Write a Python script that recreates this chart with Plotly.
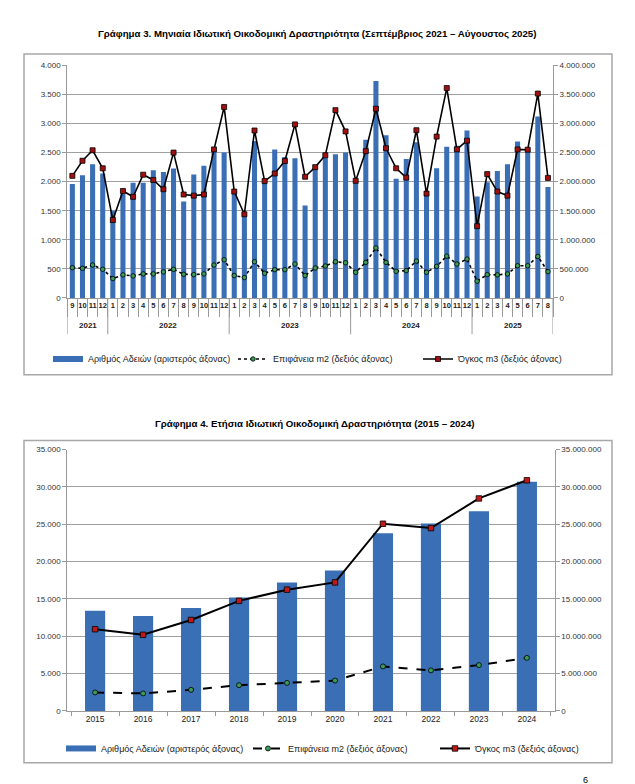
import plotly.graph_objects as go

# ---------------- DATA ----------------
# Chart 3 (monthly, Sep 2021 - Aug 2025)
year_groups = ["2021", "2022", "2023", "2024", "2025"]
months_per_group = [
    ["9", "10", "11", "12"],
    ["1", "2", "3", "4", "5", "6", "7", "8", "9", "10", "11", "12"],
    ["1", "2", "3", "4", "5", "6", "7", "8", "9", "10", "11", "12"],
    ["1", "2", "3", "4", "5", "6", "7", "8", "9", "10", "11", "12"],
    ["1", "2", "3", "4", "5", "6", "7", "8"],
]
permits_monthly = [1960, 2110, 2300, 2140,
                   1500, 1790, 1980, 1980, 2195, 2165, 2225, 1660, 2125, 2275, 2520, 2500,
                   1840, 1450, 2700, 2000, 2555, 2425, 2405, 1590, 2215, 2415, 2470, 2500,
                   2010, 2720, 3730, 2800, 2050, 2390, 2680, 1790, 2230, 2600, 2620, 2880,
                   1745, 1990, 2185, 2300, 2690, 2560, 3120, 1910]
surface_monthly = [521000, 510000, 567000, 493000,
                   334000, 397000, 380000, 414000, 414000, 448000, 493000, 408000, 402000, 414000, 567000, 657000,
                   385000, 351000, 623000, 425000, 487000, 487000, 584000, 385000, 516000, 550000, 623000, 606000,
                   442000, 612000, 861000, 612000, 459000, 470000, 635000, 442000, 544000, 720000, 584000, 669000,
                   289000, 402000, 397000, 414000, 555000, 555000, 714000, 453000]
volume_monthly = [2100000, 2360000, 2540000, 2230000,
                  1340000, 1840000, 1740000, 2120000, 2030000, 1870000, 2500000, 1780000, 1760000, 1780000, 2555000, 3285000,
                  1830000, 1440000, 2880000, 2010000, 2140000, 2355000, 2985000, 2085000, 2250000, 2455000, 3230000, 2865000,
                  2015000, 2525000, 3255000, 2575000, 2230000, 2070000, 2885000, 1795000, 2775000, 3610000, 2555000, 2705000,
                  1235000, 2130000, 1830000, 1760000, 2555000, 2550000, 3515000, 2065000]

# Chart 4 (annual 2015 - 2024)
years_annual = ["2015", "2016", "2017", "2018", "2019", "2020", "2021", "2022", "2023", "2024"]
permits_annual = [13400, 12700, 13770, 15200, 17200, 18800, 23800, 25100, 26750, 30700]
surface_annual = [2470000, 2340000, 2820000, 3440000, 3750000, 4060000, 5960000, 5430000, 6130000, 7100000]
volume_annual = [10940000, 10190000, 12180000, 14740000, 16240000, 17210000, 25070000, 24490000, 28460000, 30890000]

names = ["Αριθμός Αδειών (αριστερός άξονας)", "Επιφάνεια m2 (δεξιός άξονας)", "Όγκος m3 (δεξιός άξονας)"]
title3 = "Γράφημα 3. Μηνιαία Ιδιωτική Οικοδομική Δραστηριότητα (Σεπτέμβριος 2021 – Αύγουστος 2025)"
title4 = "Γράφημα 4. Ετήσια Ιδιωτική Οικοδομική Δραστηριότητα (2015 – 2024)"
page_number = "6"

# ---------------- FIGURE ----------------
W, H = 635, 784
FONT = "Liberation Sans, Arial, sans-serif"
BAR = "#3a6fb6"
GRID = "#a0a0a0"
AX = "#9a9a9a"

month_labels = [m for ms in months_per_group for m in ms]
idx = list(range(len(month_labels)))

# group boundaries / centres derived from the category lists
bounds = [-0.5]
centres = []
pos = 0
for ms in months_per_group:
    centres.append(pos + (len(ms) - 1) / 2)
    pos += len(ms)
    bounds.append(pos - 0.5)


def px(v):
    return v / W


def py(v):
    return 1 - v / H


fig = go.Figure()

# Chart 3 traces
fig.add_trace(go.Bar(x=idx, y=permits_monthly, name=names[0], marker=dict(color=BAR, line=dict(width=0)),
                     width=0.5, xaxis="x", yaxis="y", showlegend=False))
# legend-only proxy giving a wide bar swatch like the original
fig.add_trace(go.Scatter(x=[None], y=[None], name=names[0], mode="lines", line=dict(color=BAR, width=6),
                         xaxis="x", yaxis="y", legend="legend"))
fig.add_trace(go.Scatter(x=idx, y=surface_monthly, name=names[1], mode="lines+markers",
                         line=dict(color="black", width=1.6, dash="dot"),
                         marker=dict(symbol="circle", size=4.5, color="#3c9a5a", line=dict(color="black", width=0.8)),
                         xaxis="x", yaxis="y2", legend="legend"))
fig.add_trace(go.Scatter(x=idx, y=volume_monthly, name=names[2], mode="lines+markers",
                         line=dict(color="black", width=1.6),
                         marker=dict(symbol="square", size=5, color="#a01010", line=dict(color="black", width=0.8)),
                         xaxis="x", yaxis="y2", legend="legend"))

# Chart 4 traces
fig.add_trace(go.Bar(x=years_annual, y=permits_annual, name=names[0], marker=dict(color=BAR, line=dict(width=0)),
                     width=0.42, xaxis="x2", yaxis="y3", showlegend=False))
fig.add_trace(go.Scatter(x=[None], y=[None], name=names[0], mode="lines", line=dict(color=BAR, width=6),
                         xaxis="x2", yaxis="y3", legend="legend2"))
fig.add_trace(go.Scatter(x=years_annual, y=surface_annual, name=names[1], mode="lines+markers",
                         line=dict(color="black", width=2, dash="dash"),
                         marker=dict(symbol="circle", size=5, color="#3c9a5a", line=dict(color="black", width=0.8)),
                         xaxis="x2", yaxis="y4", legend="legend2"))
fig.add_trace(go.Scatter(x=years_annual, y=volume_annual, name=names[2], mode="lines+markers",
                         line=dict(color="black", width=2),
                         marker=dict(symbol="square", size=5.5, color="#c01818", line=dict(color="black", width=0.8)),
                         xaxis="x2", yaxis="y4", legend="legend2"))

tickfont = dict(family=FONT, size=8, color="#333333")

d1x = [px(59.3), px(545)]
d1y = [py(289.3), py(54)]
d2x = [px(59.3), px(546.7)]
d2y = [py(707), py(442.7)]

fig.update_layout(
    width=W, height=H,
    margin=dict(l=0, r=0, t=0, b=0),
    paper_bgcolor="white", plot_bgcolor="white",
    separators=",.",
    font=dict(family=FONT, size=9, color="#222222"),
    showlegend=True,
    xaxis=dict(domain=d1x, anchor="y", range=[-0.5, len(idx) - 0.5],
               tickmode="array", tickvals=idx, ticktext=month_labels, ticks="", tickangle=0,
               showline=True, linecolor=AX, linewidth=1,
               minor=dict(tickmode="array", tickvals=[i - 0.5 for i in idx] + [len(idx) - 0.5],
                          ticks="outside", ticklen=18, tickcolor=AX, showgrid=False),
               tickfont=dict(family=FONT, size=7.5, color="#222222", weight="bold"),
               showgrid=False, zeroline=False),
    yaxis=dict(domain=d1y, anchor="x", range=[0, 4000], dtick=500, tickformat=",d",
               showline=True, linecolor=AX, ticks="outside", ticklen=4, tickcolor=AX,
               showgrid=True, gridcolor=GRID, gridwidth=1, zeroline=False, tickfont=tickfont),
    yaxis2=dict(overlaying="y", side="right", anchor="x", range=[0, 4000000], dtick=500000, tickformat=",d",
                showline=True, linecolor=AX, ticks="outside", ticklen=4, tickcolor=AX,
                showgrid=False, zeroline=False, tickfont=tickfont),
    xaxis2=dict(type="category", domain=d2x, anchor="y3",
                showline=True, linecolor=AX, ticks="outside", tickson="boundaries", ticklen=4, tickcolor=AX,
                tickfont=dict(family=FONT, size=8.5, color="#222222"), showgrid=False),
    yaxis3=dict(domain=d2y, anchor="x2", range=[0, 35000], dtick=5000, tickformat=",d",
                showline=True, linecolor=AX, ticks="outside", ticklen=4, tickcolor=AX,
                showgrid=True, gridcolor=GRID, gridwidth=1, zeroline=False, tickfont=tickfont),
    yaxis4=dict(overlaying="y3", side="right", anchor="x2", range=[0, 35000000], dtick=5000000, tickformat=",d",
                showline=True, linecolor=AX, ticks="outside", ticklen=4, tickcolor=AX,
                showgrid=False, zeroline=False, tickfont=tickfont),
    legend=dict(orientation="h", x=px(40), y=py(351), xanchor="left", yanchor="middle",
                font=dict(family=FONT, size=9, color="#222222"), bgcolor="rgba(0,0,0,0)",
                entrywidth=140, entrywidthmode="pixels", itemwidth=30, traceorder="normal"),
    legend2=dict(orientation="h", x=px(53), y=py(745), xanchor="left", yanchor="middle",
                 font=dict(family=FONT, size=9, color="#222222"), bgcolor="rgba(0,0,0,0)",
                 entrywidth=142, entrywidthmode="pixels", itemwidth=30, traceorder="normal"),
)

annotations = [
    dict(text="<b>" + title3 + "</b>", x=px(309), y=py(22), xref="paper", yref="paper",
         showarrow=False, font=dict(family=FONT, size=9.7, color="black"), xanchor="center", yanchor="middle"),
    dict(text="<b>" + title4 + "</b>", x=px(307), y=py(416), xref="paper", yref="paper",
         showarrow=False, font=dict(family=FONT, size=9.7, color="black"), xanchor="center", yanchor="middle"),
    dict(text=page_number, x=px(577), y=py(777), xref="paper", yref="paper", showarrow=False,
         font=dict(family=FONT, size=9, color="black"), xanchor="center", yanchor="middle"),
]
for g, c in zip(year_groups, centres):
    annotations.append(dict(text="<b>" + g + "</b>", x=c, y=py(317), xref="x", yref="paper", showarrow=False,
                            font=dict(family=FONT, size=8, color="#222222"), xanchor="center", yanchor="middle"))

shapes = [
    dict(type="rect", xref="paper", yref="paper", x0=px(16), x1=px(604), y0=py(367), y1=py(42.5),
         line=dict(color="#a8a8a8", width=1.5)),
    dict(type="rect", xref="paper", yref="paper", x0=px(16), x1=px(604), y0=py(759.5), y1=py(433.5),
         line=dict(color="#a8a8a8", width=1.5)),
]
for b in bounds:
    shapes.append(dict(type="line", xref="x", yref="paper", x0=b, x1=b, y0=py(289.3), y1=py(326),
                       line=dict(color=AX, width=1)))

fig.update_layout(annotations=annotations, shapes=shapes)

fig.write_html("out.html")
